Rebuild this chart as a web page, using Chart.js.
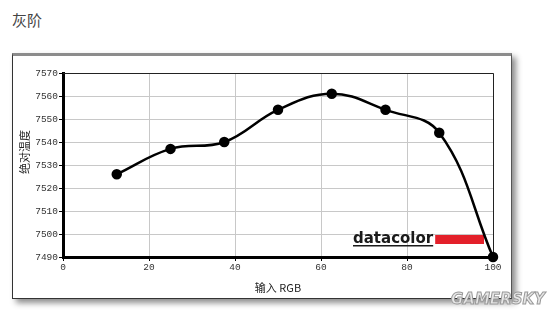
<!DOCTYPE html>
<html>
<head>
<meta charset="utf-8">
<script src="https://cdn.jsdelivr.net/npm/chart.js@4"></script>
<style>
  body { margin: 0; background: #fff; width: 550px; height: 312px; position: relative; overflow: hidden; }
  #title { position: absolute; left: 12px; top: 9px; font: 15px "Noto Sans CJK SC", sans-serif; color: #444; }
  #frame {
    position: absolute; left: 12px; top: 53px; width: 498px; height: 242px;
    border-top: 3px solid #8c8c8c; border-left: 1px solid #333;
    border-right: 1px solid #555; border-bottom: 1px solid #333;
    box-shadow: 4px 4px 6px rgba(0,0,0,.45);
    background: #fff;
  }
  #mark {
    position: absolute; left: 451px; top: 290px;
    font: italic bold 15px "DejaVu Sans", sans-serif;
    color: #e6e6e6; -webkit-text-stroke: 1px #9a9a9a;
  }
</style>
</head>
<body>
<div id="title">灰阶</div>
<div id="frame"><canvas id="c" width="498" height="242"></canvas></div>
<div id="mark">GAMERSKY</div>
<script>
// data
const inputRgb = [12.5, 25, 37.5, 50, 62.5, 75, 87.5, 100];
const cctValues = [7526, 7537, 7540, 7554, 7561, 7554, 7544, 7490];
const yTicks = [7490, 7500, 7510, 7520, 7530, 7540, 7550, 7560, 7570];
const xTicks = [0, 20, 40, 60, 80, 100];
const yTitle = '绝对温度';

const TICK_FONT = { family: 'Liberation Mono', size: 9.5 };

/** plot frame (top/right), y title sitting a bit above centre, datacolor logo */
const decorPlugin = {
  id: 'decor',
  beforeDatasetsDraw(chart) {
    const { ctx, chartArea: a } = chart;
    ctx.save();
    ctx.strokeStyle = '#222';
    ctx.lineWidth = 1;
    ctx.beginPath();
    ctx.moveTo(a.left, a.top + 0.5);
    ctx.lineTo(a.right + 0.5, a.top + 0.5);
    ctx.lineTo(a.right + 0.5, a.bottom);
    ctx.stroke();

    // y title
    ctx.save();
    ctx.translate(12, (a.top + a.bottom) / 2 - 13);
    ctx.rotate(-Math.PI / 2);
    ctx.font = '11px "Noto Sans CJK SC"';
    ctx.fillStyle = '#222';
    ctx.textAlign = 'center';
    ctx.textBaseline = 'middle';
    ctx.fillText(yTitle, 0, 0);
    ctx.restore();

    // datacolor logo
    const x0 = a.left + 290, yb = a.bottom - 14;
    ctx.font = 'bold 15px "DejaVu Sans", sans-serif';
    ctx.fillStyle = '#1a1a1a';
    ctx.textBaseline = 'alphabetic';
    ctx.fillText('datacolor', x0, yb);
    const w = ctx.measureText('datacolor').width;
    ctx.fillRect(x0, yb + 2, w, 1.5);
    ctx.fillStyle = '#e3202a';
    ctx.fillRect(x0 + w + 2, yb - 8, a.right - 9 - (x0 + w + 2), 9);
    ctx.restore();
  },
};

new Chart(document.getElementById('c'), {
  type: 'line',
  data: {
    datasets: [{
      data: inputRgb.map((x, i) => ({ x, y: cctValues[i] })),
      borderColor: '#000',
      backgroundColor: '#000',
      borderWidth: 2.5,
      pointRadius: 4,
      pointHoverRadius: 4,
      tension: 0.4,
      clip: false,
    }],
  },
  options: {
    responsive: false,
    animation: false,
    layout: { padding: { left: 0, right: 18, top: 17, bottom: 0 } },
    plugins: { legend: { display: false }, tooltip: { enabled: false } },
    scales: {
      x: {
        type: 'linear', min: 0, max: 100,
        afterBuildTicks: s => { s.ticks = xTicks.map(v => ({ value: v })); },
        afterFit: s => { s.height = 41; },
        grid: { color: '#c8c8c8', tickColor: '#000', tickLength: 4 },
        border: { color: '#000', width: 3 },
        ticks: { color: '#333', font: TICK_FONT, padding: 1, maxRotation: 0 },
        title: { display: true, text: '输入 RGB', color: '#222',
                 font: { family: '"Noto Sans CJK SC", "Liberation Mono"', size: 11 }, padding: { top: 0 } },
      },
      y: {
        min: 7490, max: 7570,
        afterBuildTicks: s => { s.ticks = yTicks.map(v => ({ value: v })); },
        afterFit: s => { s.width = 50; },
        grid: { color: '#c8c8c8', tickColor: '#000', tickLength: 4 },
        border: { color: '#000', width: 3 },
        ticks: { color: '#333', font: TICK_FONT, padding: 1, callback: v => String(v) },
      },
    },
  },
  plugins: [decorPlugin],
});
</script>
</body>
</html>
